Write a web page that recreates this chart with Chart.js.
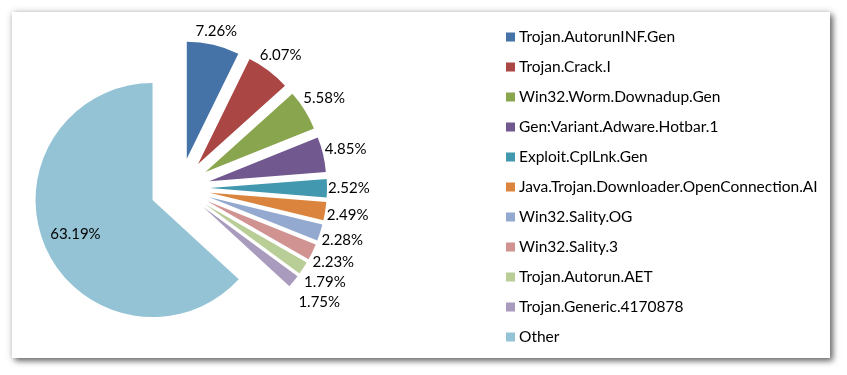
<!DOCTYPE html>
<html>
<head>
<meta charset="utf-8">
<script src="https://cdn.jsdelivr.net/npm/chart.js@4.4.0/dist/chart.umd.min.js"></script>
<style>
  html, body { margin: 0; padding: 0; background: #fff; }
  #frame {
    position: absolute; left: 12px; top: 12px; width: 818px; height: 346px;
    background: #fff;
    box-shadow: 3px 3px 6px rgba(0,0,0,0.55), 0 0 7px rgba(0,0,0,0.18);
  }
  canvas { display: block; }
</style>
</head>
<body>
<div id="frame"><canvas id="pie" width="818" height="346"></canvas></div>
<script>
// values (percent)
const labels = [
    'Trojan.AutorunINF.Gen',
    'Trojan.Crack.I',
    'Win32.Worm.Downadup.Gen',
    'Gen:Variant.Adware.Hotbar.1',
    'Exploit.CplLnk.Gen',
    'Java.Trojan.Downloader.OpenConnection.AI',
    'Win32.Sality.OG',
    'Win32.Sality.3',
    'Trojan.Autorun.AET',
    'Trojan.Generic.4170878',
    'Other'
];
const shares = [7.26, 6.07, 5.58, 4.85, 2.52, 2.49, 2.28, 2.23, 1.79, 1.75, 63.19];
const colors = ['#4572A7', '#AA4643', '#89A54E', '#71588F', '#4198AF', '#DB843D',
                '#93A9CF', '#D19392', '#B9CD96', '#A99BBD', '#93C3D4'];

const RADIUS = 117;
const EXPLODE = 30;
const FONT = '15px Lato';
const LEGEND_FONT = '15.5px Lato';

// every slice pulled out by the same distance along its middle angle
const explode = {
    id: 'explode',
    beforeDatasetDraw(chart, args){
        const ctx = chart.ctx;
        args.meta.data.forEach(arc => {
            const mid = (arc.startAngle + arc.endAngle) / 2;
            ctx.save();
            ctx.translate(Math.cos(mid) * EXPLODE, Math.sin(mid) * EXPLODE);
            arc.draw(ctx);
            ctx.restore();
        });
        return false;
    }
};

const sliceLabels = {
    id: 'sliceLabels',
    afterDatasetsDraw(chart){
        const ctx = chart.ctx;
        const placed = [];
        ctx.save();
        ctx.font = FONT;
        ctx.fillStyle = '#000';
        ctx.strokeStyle = '#000';
        ctx.lineWidth = 1;
        ctx.textAlign = 'center';
        ctx.textBaseline = 'middle';
        chart.getDatasetMeta(0).data.forEach((arc, i) => {
            const mid = (arc.startAngle + arc.endAngle) / 2;
            const dx = Math.cos(mid), dy = Math.sin(mid);
            const text = shares[i].toFixed(2) + '%';
            if(shares[i] > 30){
                const d = EXPLODE + RADIUS * 0.72;
                ctx.fillText(text, arc.x + dx * d, arc.y + dy * d);
                return;
            }
            const w = ctx.measureText(text).width;
            const h = 16;
            const ext = w / 2 * Math.abs(dx) + h / 2 * Math.abs(dy);
            const d0 = EXPLODE + RADIUS + 1 + ext;
            let d = d0, cx, cy;
            for(;;){
                cx = arc.x + dx * d;
                cy = arc.y + dy * d;
                const hit = placed.some(b => Math.abs(b.x - cx) < (b.w + w) / 2 + 2 && Math.abs(b.y - cy) < 20);
                if(!hit) break;
                d += 1;
            }
            placed.push({x: cx, y: cy, w: w});
            const ex = arc.x + dx * (EXPLODE + RADIUS);
            const ey = arc.y + dy * (EXPLODE + RADIUS);
            const lx = cx - w / 2;
            // leader line only when the label had to move clear of the slice
            if(d - d0 > 3 && lx - ex > 10){
                ctx.beginPath();
                ctx.moveTo(ex, ey);
                ctx.lineTo(lx - 6, cy + 4);
                ctx.lineTo(lx, cy + 4);
                ctx.stroke();
            }
            ctx.fillText(text, cx, cy);
        });
        ctx.restore();
    }
};

const sideLegend = {
    id: 'sideLegend',
    afterDraw(chart){
        const ctx = chart.ctx;
        ctx.save();
        ctx.font = LEGEND_FONT;
        ctx.textBaseline = 'middle';
        labels.forEach((name, i) => {
            const y = 25 + i * 30;
            ctx.fillStyle = colors[i];
            ctx.fillRect(494, y - 4.5, 9, 9);
            ctx.fillStyle = '#000';
            ctx.fillText(name, 507, y);
        });
        ctx.restore();
    }
};

new Chart(document.getElementById('pie'), {
    type: 'pie',
    data: {
        labels: labels,
        datasets: [{
            data: shares,
            backgroundColor: colors,
            borderWidth: 0
        }]
    },
    options: {
        responsive: false,
        animation: false,
        radius: RADIUS,
        layout: { padding: { left: 10, top: 10, right: 492, bottom: 4 } },
        plugins: {
            legend: { display: false },
            tooltip: { enabled: false }
        }
    },
    plugins: [explode, sliceLabels, sideLegend]
});
</script>
</body>
</html>
